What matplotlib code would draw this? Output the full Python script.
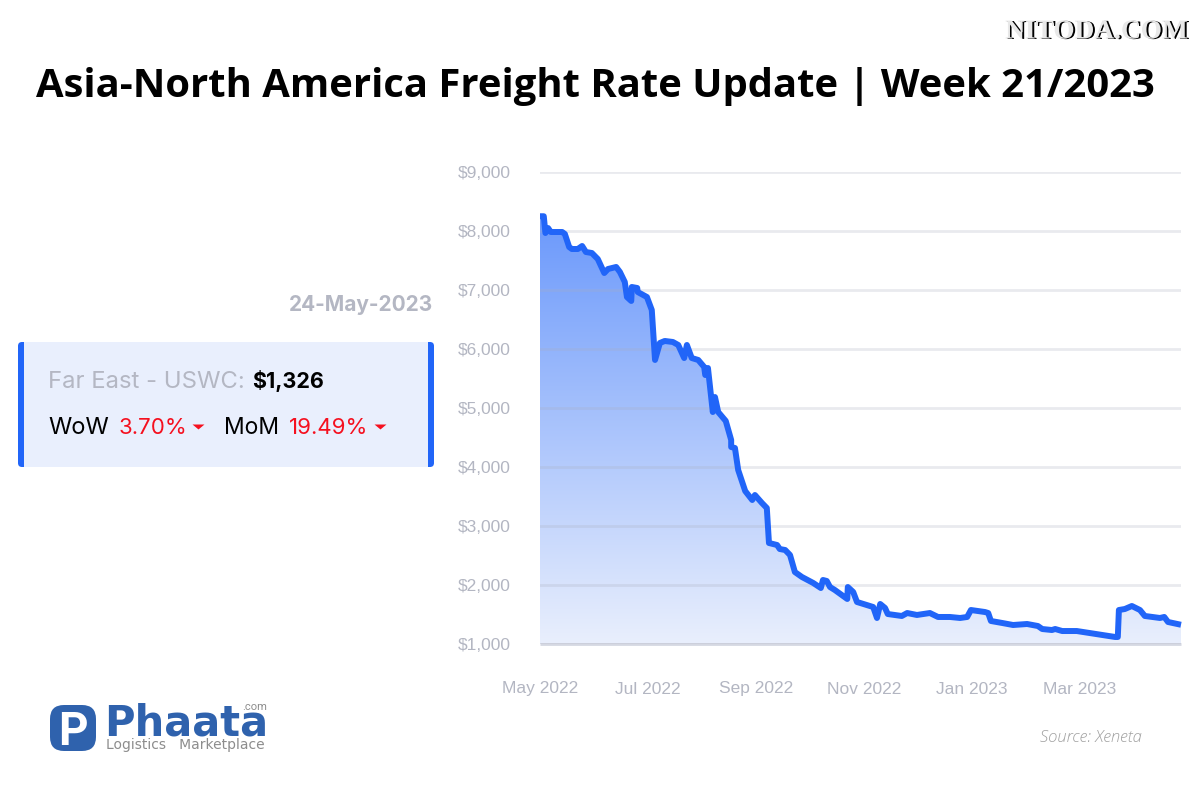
#!/usr/bin/env python3
"""
plot.py — freight rate update graphic for the Far East - USWC lane.

Dependencies: numpy, matplotlib

Generates out.png
"""

import numpy as np
import matplotlib
matplotlib.use("Agg")
import matplotlib.pyplot as plt
import matplotlib.patheffects as path_effects
from matplotlib.patches import FancyBboxPatch, Rectangle

BLUE      = "#2165f8"
CARD_BG   = "#e9effd"
MUTED     = "#b4b7c3"
TICK_GREY = "#b3b6c2"
RED       = "#f5101f"
LOGO_BLUE = "#2f62ad"

# months since May 2022, rate in USD
RATES = [
    (0.00, 8250), (0.07, 8250), (0.10, 7966), (0.15, 8050), (0.20, 7983), (0.41, 7983),
    (0.46, 7950), (0.54, 7729), (0.59, 7695), (0.70, 7695), (0.78, 7746),
    (0.85, 7644), (0.96, 7627), (1.07, 7525), (1.19, 7288), (1.26, 7356),
    (1.41, 7390), (1.48, 7305), (1.57, 7136), (1.61, 6881), (1.69, 6814),
    (1.70, 7051), (1.80, 7034), (1.81, 6966), (1.98, 6881), (2.07, 6661),
    (2.13, 5814), (2.22, 6102), (2.31, 6136), (2.46, 6119), (2.56, 6068),
    (2.67, 5847), (2.72, 6068), (2.81, 5847), (2.93, 5814), (3.04, 5695),
    (3.06, 5559), (3.11, 5678), (3.20, 4932), (3.24, 5186), (3.30, 4932),
    (3.44, 4780), (3.54, 4458), (3.54, 4339), (3.61, 4322), (3.67, 3949),
    (3.80, 3593), (3.93, 3441), (3.98, 3525), (4.11, 3390), (4.20, 3305),
    (4.24, 2712), (4.39, 2678), (4.44, 2610), (4.54, 2593), (4.63, 2508),
    (4.72, 2220), (4.85, 2136), (5.06, 2034), (5.20, 1949), (5.24, 2085),
    (5.31, 2068), (5.37, 1966), (5.46, 1915), (5.69, 1763), (5.70, 1966),
    (5.80, 1881), (5.87, 1712), (6.17, 1627), (6.24, 1441), (6.30, 1678),
    (6.39, 1610), (6.44, 1508), (6.70, 1475), (6.80, 1525), (6.98, 1492),
    (7.22, 1525), (7.37, 1458), (7.59, 1458), (7.78, 1441), (7.91, 1458),
    (7.98, 1576), (8.24, 1542), (8.30, 1525), (8.35, 1390), (8.56, 1356),
    (8.76, 1322), (9.02, 1339), (9.22, 1305), (9.30, 1254), (9.48, 1237),
    (9.54, 1254), (9.67, 1220), (9.94, 1220), (10.65, 1119), (10.70, 1119),
    (10.72, 1576), (10.83, 1593), (10.96, 1644), (11.11, 1576), (11.20, 1475),
    (11.48, 1441), (11.56, 1458), (11.63, 1373), (11.87, 1326),
]
MONTH_TICKS = [0, 2, 4, 6, 8, 10]
MONTH_NAMES = ["May 2022", "Jul 2022", "Sep 2022", "Nov 2022", "Jan 2023", "Mar 2023"]


def save_fig(fig, name):
    fig.savefig(name, dpi=100)
    plt.close(fig)
    print(f"  Saved: {name}")


# ---------------------------------------------------------------------------
# 1. Rate line with gradient fill
# ---------------------------------------------------------------------------
def plot_rates(fig):
    ax = fig.add_axes([540 / 1200, 1 - 644 / 800, 641 / 1200, 472 / 800])
    months = [r[0] for r in RATES]
    rates = [r[1] for r in RATES]

    # vertical gradient, clipped to the area under the line
    gradient = np.linspace(0, 1, 256).reshape(-1, 1)
    top = np.array(matplotlib.colors.to_rgb("#6a98fb"))
    bottom = np.array(matplotlib.colors.to_rgb("#e9effd"))
    image = top + (bottom - top) * gradient[..., None]
    im = ax.imshow(image, extent=[0, 11.87, 1000, 8300], aspect="auto", zorder=1)
    area = ax.fill_between(months, rates, 1000, color="none")
    im.set_clip_path(area.get_paths()[0], transform=ax.transData)

    ax.plot(months, rates, color=BLUE, linewidth=4.3, solid_joinstyle="round",
            solid_capstyle="butt", zorder=3, clip_on=False)

    ax.set_xlim(0, 11.87)
    ax.set_ylim(1000, 9000)
    ax.set_yticks(range(1000, 10000, 1000))
    ax.set_yticklabels([f"${v:,}" for v in range(1000, 10000, 1000)])
    ax.set_xticks(MONTH_TICKS)
    ax.set_xticklabels(MONTH_NAMES)
    ax.tick_params(length=0, labelsize=12.5, labelcolor=TICK_GREY, labelfontfamily="Liberation Sans")
    ax.tick_params(axis="x", pad=27)
    ax.tick_params(axis="y", pad=21)
    ax.grid(True, axis="y", color="#a9adbd", alpha=0.25, linewidth=2, zorder=2)
    ax.set_axisbelow(False)
    for side in ["top", "right", "left"]:
        ax.spines[side].set_visible(False)
    ax.spines["bottom"].set_color("#d5d8e2")
    ax.spines["bottom"].set_linewidth(2)
    ax.spines["bottom"].set_capstyle("butt")


# ---------------------------------------------------------------------------
# 2. Everything around the chart, placed in image pixels
# ---------------------------------------------------------------------------
def plot_card(ax):
    ax.add_patch(FancyBboxPatch((18, 342), 416, 125, boxstyle="round,pad=0,rounding_size=4",
                                facecolor=BLUE, edgecolor="none"))
    ax.add_patch(Rectangle((24, 342), 404, 125, facecolor=CARD_BG, edgecolor="none"))

    ax.text(433, 305, "24-May-2023", ha="right", va="center", fontsize=15,
            fontweight="bold", color=MUTED, family="Inter")
    ax.text(48, 382, "Far East - USWC:", va="center", fontsize=17.2, color=MUTED, family="Inter")
    ax.text(252, 381.5, "$1,326", va="center", fontsize=15.5, fontweight="bold",
            color="black", family="Inter")
    ax.text(48, 427.5, "WoW", va="center", fontsize=17, color="black", family="Inter")
    ax.text(119, 427.5, "3.70%", va="center", fontsize=16, color=RED, family="Inter")
    ax.text(224, 427.5, "MoM", va="center", fontsize=16.5, color="black", family="Inter")
    ax.text(289, 427.5, "19.49%", va="center", fontsize=16, color=RED, family="Inter")
    ax.plot([198, 380], [424, 424], linestyle="none", marker=[(-6, 0), (6, 0), (0, -5)],
            markersize=8.6, color=RED, markeredgewidth=0)


def plot_logo(ax):
    ax.add_patch(FancyBboxPatch((50, 705), 46, 46, boxstyle="round,pad=0,rounding_size=14",
                                facecolor=LOGO_BLUE, edgecolor="none"))
    ax.text(73, 745, "P", ha="center", va="baseline", fontsize=33, fontweight="bold",
            color="white", family="Roboto")
    ax.text(104, 735, "Phaata", va="baseline", fontsize=30, fontweight="bold",
            color=LOGO_BLUE, family="DejaVu Sans")
    ax.text(267, 707, ".com", ha="right", va="center", fontsize=8, color="#8d8d8d", family="Roboto")
    ax.text(106, 749, "Logistics   Marketplace", va="baseline", fontsize=10,
            color="#8d8d8d", family="DejaVu Sans")


def main():
    fig = plt.figure(figsize=(12, 8), dpi=100)

    plot_rates(fig)

    overlay = fig.add_axes([0, 0, 1, 1], zorder=5)
    overlay.set_xlim(0, 1200)
    overlay.set_ylim(800, 0)
    overlay.axis("off")

    overlay.text(595, 86, "Asia-North America Freight Rate Update | Week 21/2023", ha="center",
                 va="center", fontsize=28.85, fontweight="bold", color="black", family="Open Sans")
    # white letters with a hard black offset, the watermark has that cut-out look
    mark = overlay.text(1188, 32, "NITODA.COM", ha="right", va="center", fontsize=19.7,
                        fontweight="bold", color="#e8e8e8", family="Liberation Serif")
    mark.set_path_effects([path_effects.SimplePatchShadow(offset=(1.4, -0.3), shadow_rgbFace="black", alpha=1),
                           path_effects.Normal()])
    overlay.text(1040, 738, "Source: Xeneta", va="center", fontsize=12, style="italic",
                 color="#a0a0a0", family="Open Sans", fontweight="light")

    plot_card(overlay)
    plot_logo(overlay)

    save_fig(fig, "out.png")


if __name__ == "__main__":
    main()
